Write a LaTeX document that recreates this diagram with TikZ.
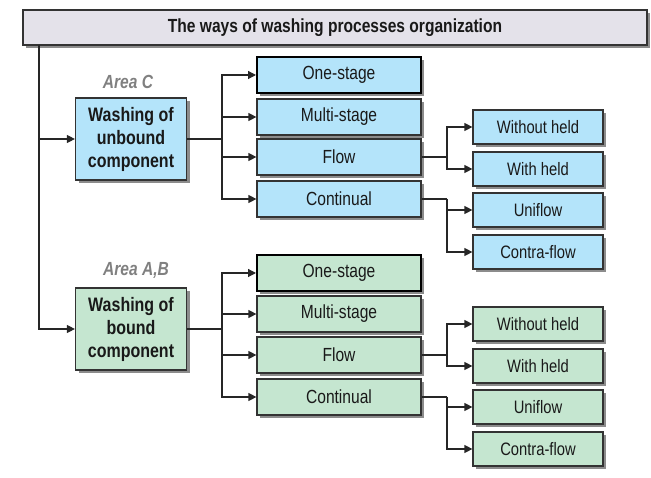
\documentclass[tikz,border=0pt]{standalone}
\usepackage{fontspec}
\setmainfont{Liberation Sans}[FakeStretch=0.82]
\usetikzlibrary{arrows.meta,shadows}
\definecolor{boxblue}{RGB}{180,228,250}
\definecolor{boxgreen}{RGB}{197,230,208}
\definecolor{titlegray}{RGB}{228,226,234}
\definecolor{areagray}{RGB}{128,128,128}
\tikzset{
  box/.style={draw=black!80, line width=1.2pt, inner sep=0pt, align=center,
    font=\fontsize{19}{23}\selectfont, text=black!90,
    drop shadow={shadow xshift=3pt, shadow yshift=-3pt, fill=black!45, opacity=1}},
  mainbox/.style={box, minimum width=111pt, minimum height=82pt,
    font=\fontsize{19.5}{23}\selectfont\bfseries},
  stagebox/.style={box, minimum width=164pt, minimum height=36pt},
  firstbox/.style={stagebox, draw=black, line width=2pt},
  subbox/.style={box, minimum width=130pt, minimum height=34pt,
    font=\fontsize{18}{22}\selectfont},
  areatext/.style={text=areagray, font=\fontsize{19}{23}\selectfont\bfseries\itshape},
  link/.style={draw=black!85, line width=1.2pt},
  conn/.style={link, -{Triangle[length=8pt,width=8pt]}},
}
\begin{document}
\begin{tikzpicture}[x=1pt, y=-1pt]
\useasboundingbox (0,0) rectangle (651,478);
\node[box, fill=titlegray, minimum width=624pt, minimum height=35pt,
  font=\fontsize{19}{23}\selectfont\bfseries] (title) at (335,27.5)
  {The ways of washing processes organization};
\coordinate (trunk) at (39,45);

% area C
\node[areatext] (areaC) at (128,82) {Area C};
\node[mainbox, fill=boxblue] (unbound) at (131,139) {Washing of\\unbound\\component};
\node[firstbox, fill=boxblue] (uone) at (339,75) {One-stage};
\foreach \name/\txt/\y in {umulti/Multi-stage/117, uflow/Flow/157, ucont/Continual/199}
  \node[stagebox, fill=boxblue] (\name) at (339,\y) {\txt};
\foreach \name/\txt/\y in {uwo/Without held/127, uwi/With held/169, uuni/Uniflow/210, ucon/Contra-flow/252}
  \node[subbox, fill=boxblue] (\name) at (538,\y) {\txt};

% area A,B
\node[areatext] (areaAB) at (136,270) {Area A,B};
\node[mainbox, fill=boxgreen] (bound) at (131,329) {Washing of\\bound\\component};
\node[firstbox, fill=boxgreen] (lone) at (339,273) {One-stage};
\foreach \name/\txt/\y in {lmulti/Multi-stage/314, lflow/Flow/355, lcont/Continual/397}
  \node[stagebox, fill=boxgreen] (\name) at (339,\y) {\txt};
\foreach \name/\txt/\y in {lwo/Without held/324, lwi/With held/366, luni/Uniflow/407, lcon/Contra-flow/449}
  \node[subbox, fill=boxgreen] (\name) at (538,\y) {\txt};

% connectors
\draw[conn] (trunk) |- (unbound.west);
\draw[conn] (trunk) |- (bound.west);

\coordinate (ubranch) at (222,139);
\draw[link] (unbound.east) -- (ubranch);
\foreach \n in {uone,umulti,uflow,ucont}
  \draw[conn] (ubranch) |- (\n.west);
\coordinate (ufbranch) at (447,157);
\draw[link] (uflow.east) -- (ufbranch);
\draw[conn] (ufbranch) |- (uwo.west);
\draw[conn] (ufbranch) |- (uwi.west);
\coordinate (ucbranch) at (447,199);
\draw[link] (ucont.east) -- (ucbranch);
\draw[conn] (ucbranch) |- (uuni.west);
\draw[conn] (ucbranch) |- (ucon.west);

\coordinate (lbranch) at (222,329);
\draw[link] (bound.east) -- (lbranch);
\foreach \n in {lone,lmulti,lflow,lcont}
  \draw[conn] (lbranch) |- (\n.west);
\coordinate (lfbranch) at (447,355);
\draw[link] (lflow.east) -- (lfbranch);
\draw[conn] (lfbranch) |- (lwo.west);
\draw[conn] (lfbranch) |- (lwi.west);
\coordinate (lcbranch) at (447,397);
\draw[link] (lcont.east) -- (lcbranch);
\draw[conn] (lcbranch) |- (luni.west);
\draw[conn] (lcbranch) |- (lcon.west);
\end{tikzpicture}
\end{document}
